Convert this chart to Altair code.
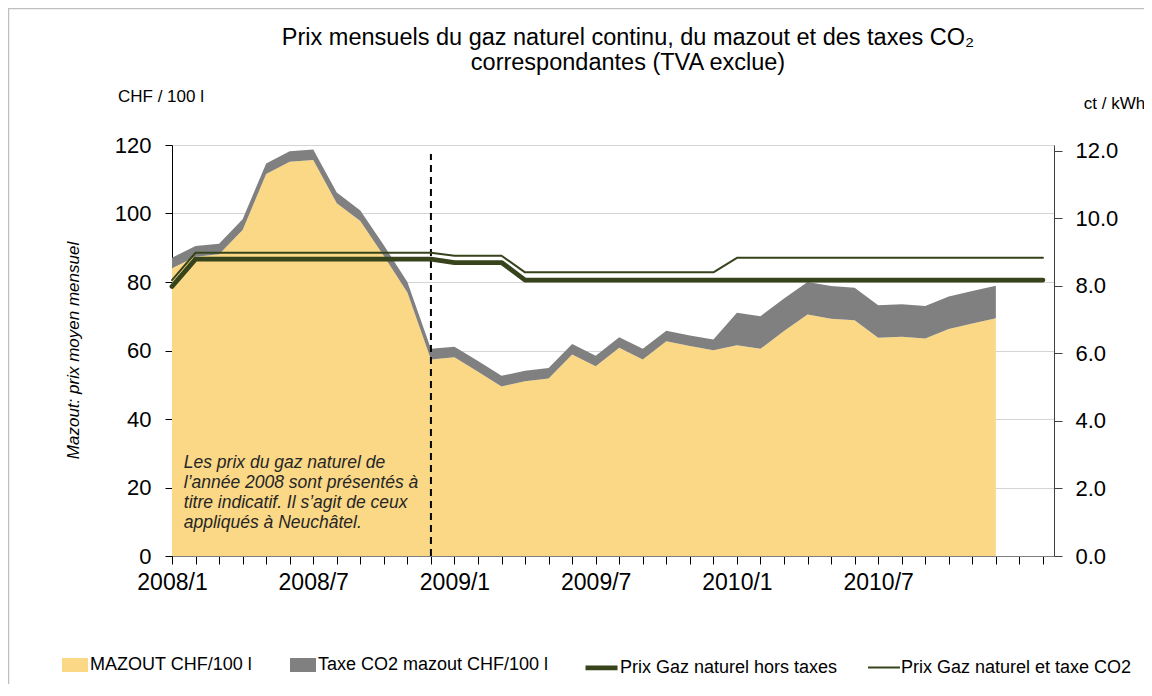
import altair as alt
import pandas as pd

# ---------------- data ----------------
month_labels = [
    "2008/1", "2008/2", "2008/3", "2008/4", "2008/5", "2008/6", "2008/7", "2008/8", "2008/9", "2008/10", "2008/11", "2008/12",
    "2009/1", "2009/2", "2009/3", "2009/4", "2009/5", "2009/6", "2009/7", "2009/8", "2009/9", "2009/10", "2009/11", "2009/12",
    "2010/1", "2010/2", "2010/3", "2010/4", "2010/5", "2010/6", "2010/7", "2010/8", "2010/9", "2010/10", "2010/11", "2010/12",
    "2011/1", "2011/2",
]
shown_label_idx = [0, 6, 12, 18, 24, 30]

mazout = [84.0, 87.4, 88.1, 95.2, 111.5, 115.1, 115.6, 103.0, 97.8, 87.6, 76.9, 57.4,
          58.0, 53.8, 49.5, 51.0, 51.8, 58.8, 55.4, 60.8, 57.4, 62.7, 61.3, 60.1,
          61.5, 60.5, 65.7, 70.5, 69.3, 68.8, 63.7, 64.0, 63.5, 66.3, 67.9, 69.4]
taxe_co2_mazout = [3.1, 3.1, 3.1, 3.1, 3.1, 3.1, 3.1, 3.1, 3.1, 3.1, 3.1, 3.1,
                   3.1, 3.1, 3.1, 3.1, 3.1, 3.1, 3.1, 3.1, 3.1, 3.1, 3.1, 3.1,
                   9.5, 9.5, 9.5, 9.5, 9.5, 9.5, 9.5, 9.5, 9.5, 9.5, 9.5, 9.5]

gaz_hors_taxes = [7.98,
                  8.79, 8.79, 8.79, 8.79, 8.79, 8.79, 8.79, 8.79, 8.79, 8.79, 8.79,
                  8.69, 8.69, 8.69,
                  8.17, 8.17, 8.17, 8.17, 8.17, 8.17, 8.17, 8.17, 8.17, 8.17, 8.17, 8.17,
                  8.17, 8.17, 8.17, 8.17, 8.17, 8.17, 8.17, 8.17, 8.17, 8.17, 8.17]
gaz_et_taxe = [8.17,
               8.98, 8.98, 8.98, 8.98, 8.98, 8.98, 8.98, 8.98, 8.98, 8.98, 8.98,
               8.89, 8.89, 8.89,
               8.40, 8.40, 8.40, 8.40, 8.40, 8.40, 8.40, 8.40, 8.40,
               8.83, 8.83, 8.83, 8.83, 8.83, 8.83, 8.83, 8.83, 8.83, 8.83, 8.83, 8.83, 8.83, 8.83]

area_series = ["MAZOUT CHF/100 l", "Taxe CO2 mazout CHF/100 l"]
line_series = ["Prix Gaz naturel hors taxes", "Prix Gaz naturel et taxe CO2"]

divider_idx = [11]
divider_top = [117.4]

note_lines = ["Les prix du gaz naturel de",
              "l\u2019ann\u00e9e 2008 sont pr\u00e9sent\u00e9s \u00e0",
              "titre indicatif. Il s\u2019agit de ceux",
              "appliqu\u00e9s \u00e0 Neuch\u00e2tel."]
note_pos_idx = [0.5]
note_pos_val = [27.1]

title_lines = ["Prix mensuels du gaz naturel continu, du mazout  et des taxes CO\u2082",
               "correspondantes (TVA exclue)"]
left_unit = "CHF / 100 l"
right_unit = "ct / kWh"
left_axis_title = "Mazout: prix moyen mensuel"

# ---------------- tables ----------------
area_rows = []
for i, v in enumerate(mazout):
    area_rows.append({"idx": i, "series": area_series[0], "ord": 0, "value": v})
for i, v in enumerate(taxe_co2_mazout):
    area_rows.append({"idx": i, "series": area_series[1], "ord": 1, "value": v})
area_df = pd.DataFrame(area_rows)

line_rows = []
for i, v in enumerate(gaz_hors_taxes):
    line_rows.append({"idx": i, "series": line_series[0], "value": v})
for i, v in enumerate(gaz_et_taxe):
    line_rows.append({"idx": i, "series": line_series[1], "value": v})
line_df = pd.DataFrame(line_rows)

div_df = pd.DataFrame({"idx": divider_idx, "y0": [0] * len(divider_idx), "y1": divider_top})
note_df = pd.DataFrame({"idx": note_pos_idx, "val": note_pos_val})
one_df = pd.DataFrame({"k": [0]})

# ---------------- styling ----------------
FONT = "Liberation Sans"
YELLOW = "#FAD886"
GREY = "#808080"
GREEN = "#36431B"

W, H = 882, 411
X_MAX = 37.47

label_expr = " : ".join(
    f"datum.value == {i} ? '{month_labels[i]}'" for i in shown_label_idx
) + " : ''"

x_scale = alt.Scale(domain=[0, X_MAX], nice=False, zero=False)
x_axis = alt.Axis(values=list(range(len(month_labels))), labelExpr=label_expr, title=None,
                  grid=False, tickSize=8, tickColor="#000000", domainColor="#7F7F7F",
                  labelFontSize=23, labelColor="#000000", labelPadding=7, labelOverlap=False,
                  labelFlush=False, labelBound=False, labelFont=FONT)


def x_enc(field="idx"):
    return alt.X(f"{field}:Q", scale=x_scale, axis=x_axis, title=None)


left_scale = alt.Scale(domain=[0, 120], nice=False, zero=True)
left_axis = alt.Axis(values=[0, 20, 40, 60, 80, 100, 120], title=left_axis_title,
                     titleFontStyle="italic", titleFontWeight="normal", titleFontSize=17,
                     titleFont=FONT, titleColor="#000000", titleAngle=270,
                     titleX=-99, titleY=205, titleAlign="center", titleBaseline="middle",
                     grid=True, gridColor="#D4D4D4", gridWidth=1,
                     tickSize=7, tickColor="#000000", domainColor="#000000",
                     labelFontSize=22, labelColor="#000000", labelPadding=14, labelFont=FONT)

right_scale = alt.Scale(domain=[0, 12.17], nice=False, zero=True)
right_axis = alt.Axis(orient="right", values=[0, 2, 4, 6, 8, 10, 12], format=".1f",
                      title=right_unit, titleAngle=0, titleX=60, titleY=-42,
                      titleAlign="center", titleBaseline="middle", titleFontSize=17,
                      titleFontWeight="normal", titleFont=FONT, titleColor="#000000",
                      grid=False, tickSize=8, tickColor="#404040", domainColor="#404040",
                      labelFontSize=22, labelColor="#000000", labelPadding=13, labelFont=FONT)

# ---------------- layers ----------------
area = alt.Chart(area_df).mark_area(interpolate="linear", opacity=1).encode(
    x=x_enc(),
    y=alt.Y("value:Q", stack="zero", scale=left_scale, axis=left_axis),
    color=alt.Color("series:N",
                    scale=alt.Scale(domain=area_series, range=[YELLOW, GREY]),
                    legend=alt.Legend(orient="none", legendX=-110, legendY=507,
                                      direction="horizontal", title=None,
                                      symbolType="M-1,-0.54L1,-0.54L1,0.54L-1,0.54Z",
                                      symbolSize=676, symbolStrokeWidth=0, symbolOpacity=1,
                                      labelFontSize=18, labelFont=FONT, labelColor="#000000",
                                      labelOffset=2, columnPadding=37, padding=0,
                                      labelLimit=400)),
    order=alt.Order("ord:Q"),
)

divider = alt.Chart(div_df).mark_rule(color="#000000", strokeWidth=2, strokeDash=[7, 5]).encode(
    x=x_enc(),
    y=alt.Y("y0:Q", scale=left_scale, axis=left_axis),
    y2="y1:Q",
)

note = alt.Chart(note_df).mark_text(
    text=note_lines, align="left", baseline="middle", lineHeight=20,
    fontStyle="italic", fontSize=17.5, font=FONT, color="#262626",
).encode(
    x=x_enc(),
    y=alt.Y("val:Q", scale=left_scale, axis=left_axis),
)

left_block = alt.layer(area, divider, note)

gas = alt.Chart(line_df).mark_line(color=GREEN, strokeCap="round", strokeJoin="round").encode(
    x=x_enc(),
    y=alt.Y("value:Q", scale=right_scale, axis=right_axis),
    strokeWidth=alt.StrokeWidth("series:N",
                                scale=alt.Scale(type="ordinal", domain=line_series, range=[4.8, 2]),
                                legend=alt.Legend(orient="none", legendX=411, legendY=504,
                                                  direction="horizontal", title=None,
                                                  symbolType="stroke", symbolSize=1024,
                                                  symbolStrokeColor=GREEN,
                                                  labelFontSize=18, labelFont=FONT,
                                                  labelColor="#000000", labelOffset=0,
                                                  columnPadding=26, padding=0, labelLimit=400)),
)

title_text = alt.Chart(one_df).mark_text(
    text=title_lines, align="center", baseline="top", lineHeight=25,
    fontSize=23.5, font=FONT, color="#000000",
).encode(x=alt.value(456), y=alt.value(-119))

unit_text = alt.Chart(one_df).mark_text(
    text=left_unit, align="center", baseline="middle",
    fontSize=17, font=FONT, color="#000000",
).encode(x=alt.value(-11), y=alt.value(-48))

border = alt.Chart(one_df).mark_rect(fillOpacity=0, stroke="#BFBFBF", strokeWidth=1.5).encode(
    x=alt.value(-163.5), x2=alt.value(1100), y=alt.value(-136.5), y2=alt.value(700)
)

chart = alt.layer(left_block, gas, title_text, unit_text, border).resolve_scale(
    y="independent"
).properties(
    width=W, height=H,
    autosize=alt.AutoSizeParams(type="none"),
    padding={"left": 164, "top": 137, "right": 90, "bottom": 128},
    background="#FFFFFF",
).configure_view(stroke=None).configure(font=FONT)

chart.save("out.html", embed_options={"renderer": "svg", "actions": False})
